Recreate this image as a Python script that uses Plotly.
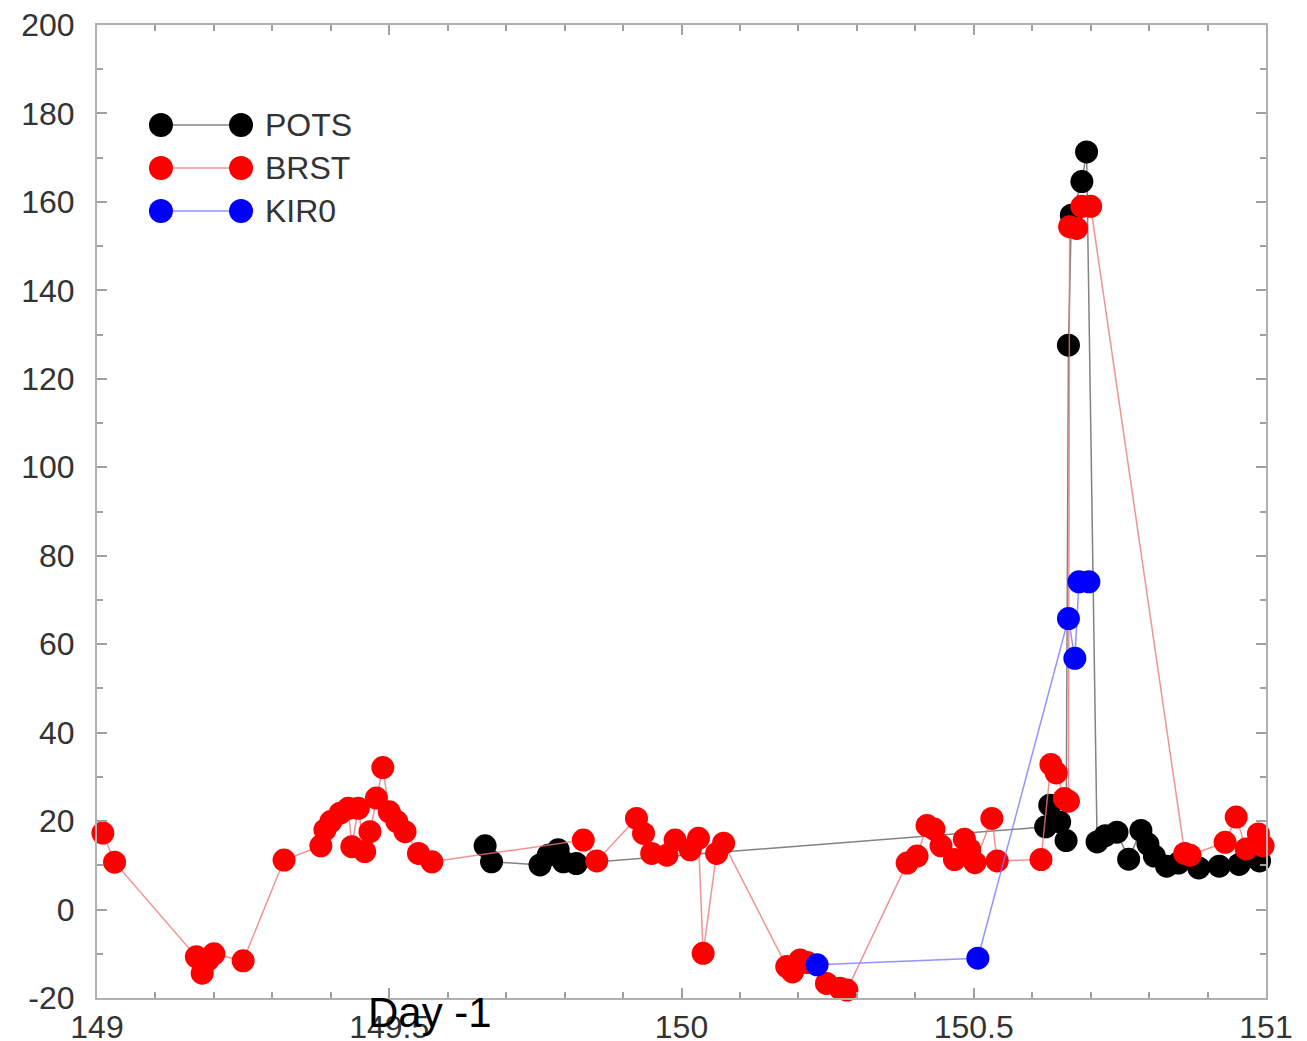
import plotly.graph_objects as go

# ---------------- data ----------------
pots_x = [149.664, 149.675, 149.758, 149.772, 149.789, 149.798, 149.82,
          150.623, 150.63, 150.647, 150.658, 150.662, 150.667, 150.685, 150.693,
          150.711, 150.725, 150.745, 150.765, 150.786, 150.798, 150.809, 150.83,
          150.85, 150.885, 150.92, 150.954, 150.989]
pots_y = [14.4, 10.8, 10.1, 12.3, 13.5, 10.8, 10.4,
          18.7, 23.6, 19.8, 15.6, 127.6, 157.0, 164.6, 171.3,
          15.3, 16.7, 17.5, 11.4, 17.9, 14.8, 12.1, 9.8,
          10.5, 9.4, 9.8, 10.2, 11.0]

brst_x = [149.01, 149.03, 149.17, 149.18, 149.19, 149.20, 149.25, 149.32,
          149.383, 149.39, 149.40, 149.416, 149.43, 149.436, 149.447, 149.458,
          149.467, 149.478, 149.489, 149.50, 149.513, 149.527, 149.55, 149.573,
          149.832, 149.855, 149.923, 149.935, 149.949, 149.975, 149.989, 150.015,
          150.029, 150.037, 150.06, 150.072, 150.18, 150.19, 150.203, 150.215,
          150.248, 150.271, 150.283, 150.386, 150.403, 150.42, 150.432, 150.444,
          150.467, 150.484, 150.493, 150.502, 150.531, 150.54, 150.615, 150.632,
          150.641, 150.655, 150.662, 150.664, 150.676, 150.685, 150.70, 150.861,
          150.87, 150.93, 150.949, 150.966, 150.987, 150.995]
brst_y = [17.3, 10.7, -10.7, -14.4, -11.4, -10.0, -11.6, 11.2,
          14.4, 18.0, 19.9, 21.8, 22.9, 14.2, 22.9, 13.1,
          17.6, 25.2, 32.1, 22.1, 19.9, 17.6, 12.7, 10.8,
          15.7, 11.0, 20.6, 17.2, 12.7, 12.3, 15.7, 13.5,
          16.1, -9.9, 12.7, 15.0, -12.9, -14.1, -11.4, -12.0,
          -16.7, -17.8, -18.2, 10.5, 12.1, 19.0, 18.2, 14.4,
          11.3, 15.9, 13.6, 10.6, 20.6, 11.0, 11.3, 32.8,
          30.9, 25.1, 24.5, 154.4, 154.0, 159.0, 159.0, 12.7,
          12.3, 15.2, 20.9, 13.7, 17.1, 14.4]

kir0_x = [150.232, 150.507, 150.662, 150.673, 150.68, 150.697]
kir0_y = [-12.5, -11.0, 65.8, 56.8, 74.1, 74.1]

series_names = ["POTS", "BRST", "KIR0"]
marker_colors = ["#000000", "#ff0000", "#0000ff"]
line_colors = ["rgba(90,90,90,0.75)", "rgba(235,120,120,0.8)", "rgba(120,120,255,0.8)"]

x_tickvals = [149, 149.5, 150, 150.5, 151]
x_ticktext = ["149", "149.5", "150", "150.5", "151"]
y_tickvals = [-20, 0, 20, 40, 60, 80, 100, 120, 140, 160, 180, 200]
y_ticktext = ["-20", "0", "20", "40", "60", "80", "100", "120", "140", "160", "180", "200"]

# ---------------- figure ----------------
fig = go.Figure()
all_x = [pots_x, brst_x, kir0_x]
all_y = [pots_y, brst_y, kir0_y]
for name, xs, ys, mc, lc in zip(series_names, all_x, all_y, marker_colors, line_colors):
    fig.add_trace(go.Scatter(
        x=xs, y=ys, mode="lines+markers", name=name,
        line=dict(color=lc, width=1.5),
        marker=dict(color=mc, size=23, line=dict(width=0)),
        showlegend=False, cliponaxis=False,
    ))

# legend drawn gnuplot-style (marker - line - marker)
leg_y = [0.8972, 0.8530, 0.8088]
for name, ly, mc, lc in zip(series_names, leg_y, marker_colors, line_colors):
    fig.add_shape(type="line", xref="paper", yref="paper",
                  x0=0.0547, x1=0.1232, y0=ly, y1=ly,
                  line=dict(color=lc, width=1.5))
    for lx in (0.0547, 0.1232):
        fig.add_shape(type="circle", xref="paper", yref="paper",
                      xsizemode="pixel", ysizemode="pixel",
                      xanchor=lx, yanchor=ly,
                      x0=-12, x1=12, y0=-12, y1=12,
                      fillcolor=mc, line=dict(width=0))
    fig.add_annotation(xref="paper", yref="paper", x=0.142, y=ly,
                       xanchor="left", yanchor="middle", showarrow=False,
                       text=name, font=dict(size=32, color="#333333",
                                            family="Liberation Sans, Arial, sans-serif"))

fig.add_annotation(xref="paper", yref="paper", x=0.285, y=-0.0144,
                   xanchor="center", yanchor="middle", showarrow=False,
                   text="Day -1", font=dict(size=42, color="#000000",
                                            family="Liberation Sans, Arial, sans-serif"))

axis_common = dict(
    showgrid=False, zeroline=False, showline=True, linecolor="#b0b0b0", linewidth=2,
    mirror="allticks", ticks="inside", ticklen=10, tickwidth=1.5, tickcolor="#a0a0a0",
    automargin=False,
    tickfont=dict(size=32, color="#333333", family="Liberation Sans, Arial, sans-serif"),
)

fig.update_xaxes(range=[149, 151], tickmode="array", tickvals=x_tickvals, ticktext=x_ticktext,
                 ticklabelstandoff=0,
                 minor=dict(dtick=0.1, ticks="inside", ticklen=6, tickcolor="#a0a0a0", tickwidth=1.5),
                 **axis_common)
fig.update_yaxes(range=[-20, 200], tickmode="array", tickvals=y_tickvals, ticktext=y_ticktext,
                 ticklabelstandoff=14,
                 minor=dict(dtick=10, tick0=0, ticks="inside", ticklen=6, tickcolor="#a0a0a0", tickwidth=1.5),
                 **axis_common)

fig.update_layout(
    width=1307, height=1041,
    margin=dict(l=97, r=41, t=25, b=43),
    plot_bgcolor="white", paper_bgcolor="white",
    showlegend=False,
)

fig.write_html("out.html")
